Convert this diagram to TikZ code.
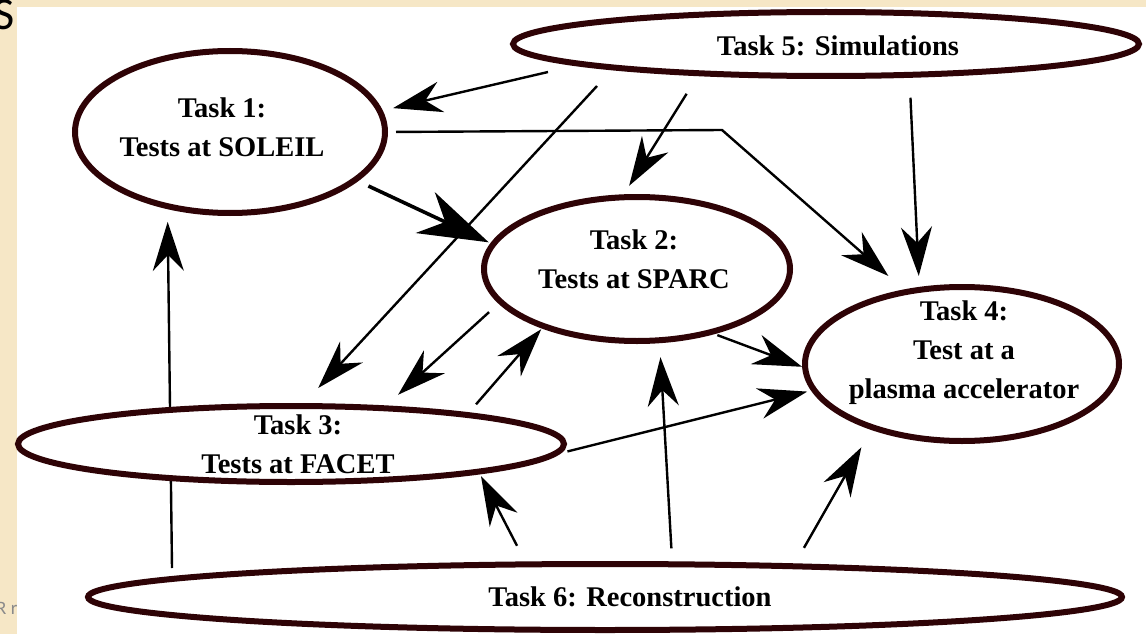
\documentclass[tikz,border=0pt]{standalone}
\usepackage{fontspec}
\setmainfont{Liberation Serif}
\newfontfamily\slidefont{Carlito}
\usepackage{tikz}
\usetikzlibrary{
  arrows.meta,
  shapes.geometric,
  backgrounds
}
\definecolor{tkmaroon}{HTML}{2E0306}
\definecolor{tkparch}{HTML}{F6E7C6}
\definecolor{tkgrey}{HTML}{8A8A8A}

\begin{document}
\begin{tikzpicture}[
  x=1pt, y=-1pt,
  task/.style={ellipse, draw=tkmaroon, line width=6pt, fill=white,
    inner sep=0pt, outer sep=3pt},
  tasktext/.style={font=\bfseries\fontsize{28.5}{39}\selectfont, align=center},
  arrow/.style={-{Stealth[length=49pt, width=31pt, inset=16pt]}, line width=2.4pt},
  bigarrow/.style={-{Stealth[length=70pt, width=45pt, inset=22pt]}, line width=3.6pt}
]
  \useasboundingbox (0,0) rectangle (1146,634);

  % --- Tasks ---
  \node[task, minimum width=626pt, minimum height=64pt] (t5) at (826,44) {};
  \node[task, minimum width=310pt, minimum height=162pt] (t1) at (230,132) {};
  \node[task, minimum width=306pt, minimum height=144pt] (t2) at (637,269) {};
  \node[task, minimum width=314pt, minimum height=154pt] (t4) at (962,364) {};
  \node[task, minimum width=546pt, minimum height=76pt] (t3) at (291,444) {};
  \node[task, minimum width=1034pt, minimum height=66pt] (t6) at (605,597) {};

  % --- Task texts ---
  \node[tasktext] (t5txt) at (838,46) {Task 5: Simulations};
  \node[tasktext] (t1txt) at (222,127) {Task 1:\\Tests at SOLEIL};
  \node[tasktext] (t2txt) at (634,259) {Task 2:\\Tests at SPARC};
  \node[tasktext] (t4txt) at (964,353) {Task 4:\\Test at a\\plasma accelerator};
  \node[tasktext] (t3txt) at (298,444) {Task 3:\\Tests at FACET};
  \node[tasktext] (t6txt) at (630,597) {Task 6: Reconstruction};

  % Task 5 -> others
  \draw[arrow, shorten >=10.6pt] ([shift={(-278,28)}]t5.center) -- (t1.8.05);
  \draw[arrow, shorten >=20.5pt] ([shift={(-229,42)}]t5.center) -- (t3.72.2);
  \draw[arrow, shorten <=21pt, shorten >=10pt] (t5.194) -- (t2.100.8);
  \draw[arrow, shorten <=20pt, shorten >=11pt] (t5.338.2) -- (t4.119.5);

  % Task 1 -> others
  \coordinate (elbow) at (722,130);
  \draw[arrow, shorten <=8pt, shorten >=20.5pt] (t1.0.7) -- (elbow) -- (t4.128.2);
  \draw[bigarrow, shorten <=11.4pt, shorten >=2pt] (t1.339.7) -- (t2.170.3);

  % Task 2 -> others
  \draw[arrow, shorten <=12.8pt, shorten >=16pt] (t2.194.5) -- (t3.22);
  \draw[arrow, shorten <=3pt] (t2.320.3) -- (t4.181.1);

  % Task 3 -> others
  \draw[arrow, shorten <=11pt, shorten >=1pt] (t3.10.4) -- (t2.212.8);
  \draw[arrow, shorten <=8pt, shorten >=4pt] (t3.358.3) -- (t4.190.6);

  % Task 6 -> others
  \draw[arrow, shorten <=13pt, shorten >=14pt] (t6.28.55) -- (t2.287.5);
  \draw[arrow, shorten <=18pt, shorten >=20pt] (t6.10.4) -- (t4.216.6);
  \draw[arrow, shorten <=17.6pt, shorten >=2.6pt] (t6.156.5) -- (t3.351.8);

  % Slide behind the picture
  \begin{scope}[on background layer]
    \fill[tkparch] (0,0) rectangle (1146,634);
    \node[font=\slidefont\fontsize{46}{46}\selectfont, anchor=base east,
      inner sep=0pt] (slideS) at (15,30) {S};
    \node[font=\slidefont\fontsize{19}{19}\selectfont, text=tkgrey,
      anchor=base west, inner sep=0pt] (slideR) at (-4,614) {R r};
    \fill[white] (17,7) rectangle (1146,634);
    % runs behind Task 3
    \draw[arrow, shorten >=12.7pt] ([shift={(-433,-29)}]t6.center) -- (t1.231.2);
  \end{scope}

\end{tikzpicture}
\end{document}
